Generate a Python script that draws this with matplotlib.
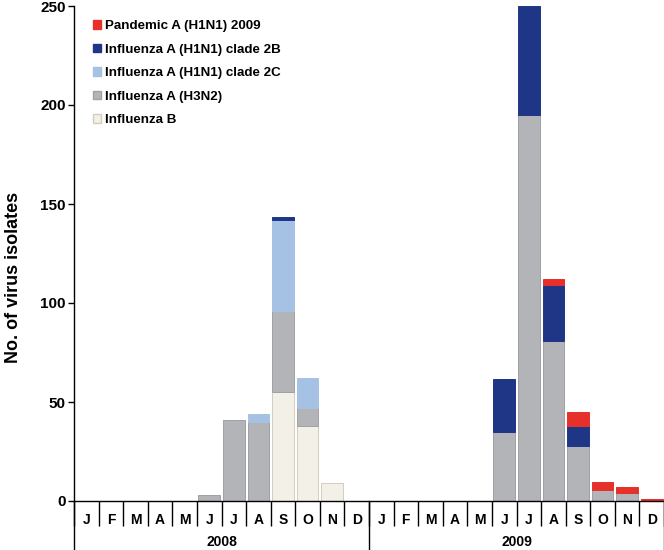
import matplotlib
matplotlib.use("Agg")
import matplotlib.pyplot as plt
from matplotlib.patches import Patch
import numpy as np

plt.rcParams['font.family'] = ['Liberation Sans', 'DejaVu Sans']
plt.rcParams['font.weight'] = 'bold'

month_labels = ["J", "F", "M", "A", "M", "J", "J", "A", "S", "O", "N", "D"] * 2
years = ["2008", "2009"]

series_names = ["Influenza B", "Influenza A (H3N2)", "Influenza A (H1N1) clade 2C",
                "Influenza A (H1N1) clade 2B", "Pandemic A (H1N1) 2009"]
# values per month, Jan 2008 .. Dec 2009
flu_b = [0, 0, 0, 0, 0, 0, 0, 0, 55, 38, 9, 0,
         0, 0, 0, 0, 0, 0, 0, 0, 0, 0, 0, 0]
h3n2 = [0, 0, 0, 0, 0, 3, 41, 40, 41, 9, 0, 0,
        0, 0, 0, 0, 0, 35, 195, 81, 28, 5.5, 4, 0]
clade_2c = [0, 0, 0, 0, 0, 0, 0, 4, 46, 15, 0, 0,
            0, 0, 0, 0, 0, 0, 0, 0, 0, 0, 0, 0]
clade_2b = [0, 0, 0, 0, 0, 0, 0, 0, 1.5, 0, 0, 0,
            0, 0, 0, 0, 0, 26.5, 55, 28, 10, 0, 0, 0]
pandemic = [0, 0, 0, 0, 0, 0, 0, 0, 0, 0, 0, 0,
            0, 0, 0, 0, 0, 0, 0, 3, 7, 4, 3, 1]

colors = ["#F2F0E7", "#B2B4B7", "#A5C2E4", "#1F3686", "#E8302A"]
edges = ["#D2CEBF", "#A0A1A4", "#A5C2E4", "#1F3686", "#E8302A"]

fig = plt.figure(figsize=(6.64, 5.5), dpi=100)
ax = fig.add_axes([74/664, 49/550, 590/664, 495/550])

x = np.arange(24)
bottom = np.zeros(24)
data = [flu_b, h3n2, clade_2c, clade_2b, pandemic]
for vals, c, ec in zip(data, colors, edges):
    v = np.array(vals, dtype=float)
    m = v > 0
    ax.bar(x[m], v[m], width=0.88, bottom=bottom[m], color=c, edgecolor=ec, linewidth=0.7)
    bottom += v

ax.set_xlim(-0.5, 23.5)
ax.set_ylim(0, 250)
ax.set_yticks([0, 50, 100, 150, 200, 250])
ax.tick_params(axis='y', labelsize=11, length=4, width=1, pad=2)
for s in ['top', 'right']:
    ax.spines[s].set_visible(False)
ax.spines['left'].set_linewidth(1)
ax.spines['bottom'].set_linewidth(1)

ax.set_xticks(np.arange(-0.5, 24, 1))
ax.set_xticklabels([])
ax.tick_params(axis='x', which='major', length=18, width=1, direction='out')
ax.set_xticks(x, minor=True)
ax.set_xticklabels(month_labels, minor=True)
ax.tick_params(axis='x', which='minor', length=0, labelsize=10, pad=9)

trans = ax.get_xaxis_transform()
for xb in [-0.5, 11.5, 23.5]:
    ax.plot([xb, xb], [0, -0.12], transform=trans, color='black', lw=1, clip_on=False)
for i, yr in enumerate(years):
    ax.text(5.5 + 12 * i, -0.082, yr, transform=trans, ha='center', va='center',
            fontsize=10, fontweight='bold')

fig.text(14/664, 1 - 277/550, "No. of virus isolates", rotation=90, ha='center',
         va='center', fontsize=13, fontweight='bold')

handles = [Patch(facecolor=colors[i], edgecolor=edges[i], label=series_names[i])
           for i in [4, 3, 2, 1, 0]]
ax.legend(handles=handles, loc='upper left', bbox_to_anchor=(0.016, 0.99),
          frameon=False, fontsize=9.6, handlelength=0.6, handleheight=0.6,
          handletextpad=0.35, labelspacing=0.86, borderaxespad=0.3)

fig.savefig("out.png", dpi=100)
